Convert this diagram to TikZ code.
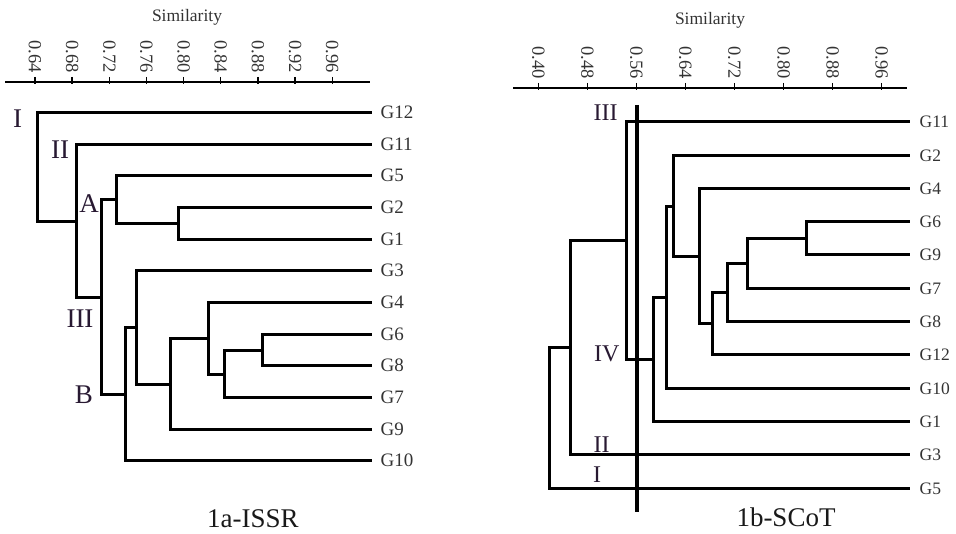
\documentclass[tikz,border=0pt]{standalone}
\usepackage{fontspec}
\setmainfont{Liberation Serif}
\begin{document}
\begin{tikzpicture}[x=1pt,y=-1pt,
  branch/.style={line width=3pt,line cap=rect},
  axisline/.style={line width=2pt},
  tickmark/.style={line width=1.4pt},
  cutline/.style={line width=4pt},
  leafL/.style={anchor=west,inner xsep=10.5pt,inner ysep=0pt,font=\fontsize{19}{19}\selectfont,text=black!80},
  leafR/.style={anchor=west,inner xsep=11.5pt,inner ysep=0pt,font=\fontsize{17.5}{17.5}\selectfont,text=black!80},
  ticklab/.style={rotate=-90,anchor=east,inner sep=0pt,font=\fontsize{18.5}{18.5}\selectfont,text=black!80},
  simlab/.style={inner sep=0pt,font=\fontsize{17.5}{17.5}\selectfont,text=black!80},
  romL/.style={inner sep=0pt,font=\fontsize{27}{27}\selectfont,text={rgb,255:red,40;green,25;blue,50}},
  romR/.style={inner sep=0pt,font=\fontsize{24}{24}\selectfont,text={rgb,255:red,40;green,25;blue,50}},
  caption/.style={inner sep=0pt,font=\fontsize{27}{27}\selectfont,text=black!90}]
\useasboundingbox (0,0) rectangle (956,534);

% ---------------- Left panel: 1a-ISSR ----------------
\coordinate (axL1) at (5,82);
\coordinate (axL2) at (370,82);
\draw[axisline] (axL1) -- (axL2);
\foreach \v/\lab in {0/0.64,1/0.68,2/0.72,3/0.76,4/0.80,5/0.84,6/0.88,7/0.92,8/0.96}{
  \coordinate (tL\v) at ({35+37.15*\v},82);
  \draw[tickmark] ([yshift=5pt]tL\v) -- ([yshift=-2pt]tL\v);
  \node[ticklab] (tlL\v) at ([yshift=9pt]tL\v) {\lab};
}
\node[simlab] (simL) at (187,17) {Similarity};

\node[leafL] (L12) at (370,112.5) {G12};
\node[leafL] (L11) at (370,144.5) {G11};
\node[leafL] (L5)  at (370,175.5) {G5};
\node[leafL] (L2)  at (370,207.5) {G2};
\node[leafL] (L1)  at (370,239.5) {G1};
\node[leafL] (L3)  at (370,270.5) {G3};
\node[leafL] (L4)  at (370,302.5) {G4};
\node[leafL] (L6)  at (370,334.5) {G6};
\node[leafL] (L8)  at (370,365.5) {G8};
\node[leafL] (L7)  at (370,397.5) {G7};
\node[leafL] (L9)  at (370,429.5) {G9};
\node[leafL] (L10) at (370,460.5) {G10};

\coordinate (a1) at (178.5,223.5);
\coordinate (a2) at (116.5,199.5);
\coordinate (b1) at (262.5,350.5);
\coordinate (b2) at (224.5,374.5);
\coordinate (b3) at (208.5,338.5);
\coordinate (b4) at (170.5,384.5);
\coordinate (b5) at (136.5,327.5);
\coordinate (b6) at (125.5,394.5);
\coordinate (ab) at (101.5,297.5);
\coordinate (c2) at (76.5,221.5);
\coordinate (c1) at (37.5,167.5);

\draw[branch] (a1) |- (L2.west) (a1) |- (L1.west);
\draw[branch] (a2) |- (L5.west) (a2) |- (a1);
\draw[branch] (b1) |- (L6.west) (b1) |- (L8.west);
\draw[branch] (b2) |- (b1) (b2) |- (L7.west);
\draw[branch] (b3) |- (L4.west) (b3) |- (b2);
\draw[branch] (b4) |- (b3) (b4) |- (L9.west);
\draw[branch] (b5) |- (L3.west) (b5) |- (b4);
\draw[branch] (b6) |- (b5) (b6) |- (L10.west);
\draw[branch] (ab) |- (a2) (ab) |- (b6);
\draw[branch] (c2) |- (L11.west) (c2) |- (ab);
\draw[branch] (c1) |- (L12.west) (c1) |- (c2);

\node[romL] (rI)   at (17.5,119) {I};
\node[romL] (rII)  at (60,150) {II};
\node[romL] (rA)   at (89,204) {A};
\node[romL] (rIII) at (80,319) {III};
\node[romL] (rB)   at (84,395) {B};
\node[caption] (capL) at (253,519) {1a-ISSR};

% ---------------- Right panel: 1b-SCoT ----------------
\coordinate (axR1) at (513,88);
\coordinate (axR2) at (907,88);
\draw[axisline] (axR1) -- (axR2);
\foreach \v/\lab in {0/0.40,1/0.48,2/0.56,3/0.64,4/0.72,5/0.80,6/0.88,7/0.96}{
  \coordinate (tR\v) at ({538.3+49.05*\v},88);
  \draw[tickmark] ([yshift=5pt]tR\v) -- ([yshift=-2pt]tR\v);
  \node[ticklab] (tlR\v) at ([yshift=9pt]tR\v) {\lab};
}
\node[simlab] (simR) at (710,20) {Similarity};

\node[leafR] (R11) at (908,121.5) {G11};
\node[leafR] (R2)  at (908,155.5) {G2};
\node[leafR] (R4)  at (908,188.5) {G4};
\node[leafR] (R6)  at (908,221.5) {G6};
\node[leafR] (R9)  at (908,254.5) {G9};
\node[leafR] (R7)  at (908,288.5) {G7};
\node[leafR] (R8)  at (908,321.5) {G8};
\node[leafR] (R12) at (908,354.5) {G12};
\node[leafR] (R10) at (908,388.5) {G10};
\node[leafR] (R1)  at (908,421.5) {G1};
\node[leafR] (R3)  at (908,454.5) {G3};
\node[leafR] (R5)  at (908,488.5) {G5};

\coordinate (r1)  at (806.5,238.5);
\coordinate (r2)  at (747.5,263.5);
\coordinate (r3)  at (727.5,292.5);
\coordinate (r4)  at (712.5,323.5);
\coordinate (r5)  at (699.5,256.5);
\coordinate (r6)  at (673.5,206.5);
\coordinate (r7)  at (666.5,297.5);
\coordinate (r8)  at (653.5,359.5);
\coordinate (r9)  at (626.5,240.5);
\coordinate (r10) at (570.5,347.5);
\coordinate (r11) at (549.5,418.5);

\draw[branch] (r1) |- (R6.west) (r1) |- (R9.west);
\draw[branch] (r2) |- (r1) (r2) |- (R7.west);
\draw[branch] (r3) |- (r2) (r3) |- (R8.west);
\draw[branch] (r4) |- (r3) (r4) |- (R12.west);
\draw[branch] (r5) |- (R4.west) (r5) |- (r4);
\draw[branch] (r6) |- (R2.west) (r6) |- (r5);
\draw[branch] (r7) |- (r6) (r7) |- (R10.west);
\draw[branch] (r8) |- (r7) (r8) |- (R1.west);
\draw[branch] (r9) |- (R11.west) (r9) |- (r8);
\draw[branch] (r10) |- (r9) (r10) |- (R3.west);
\draw[branch] (r11) |- (r10) (r11) |- (R5.west);

\coordinate (cutT) at (637,105);
\coordinate (cutB) at (637,511.5);
\draw[cutline] (cutT) -- (cutB);

\node[romR] (sIII) at (605.5,112.5) {III};
\node[romR] (sIV)  at (606.7,354) {IV};
\node[romR] (sII)  at (601.7,444.5) {II};
\node[romR] (sI)   at (597,475) {I};
\node[caption] (capR) at (786,517) {1b-SCoT};
\end{tikzpicture}
\end{document}
